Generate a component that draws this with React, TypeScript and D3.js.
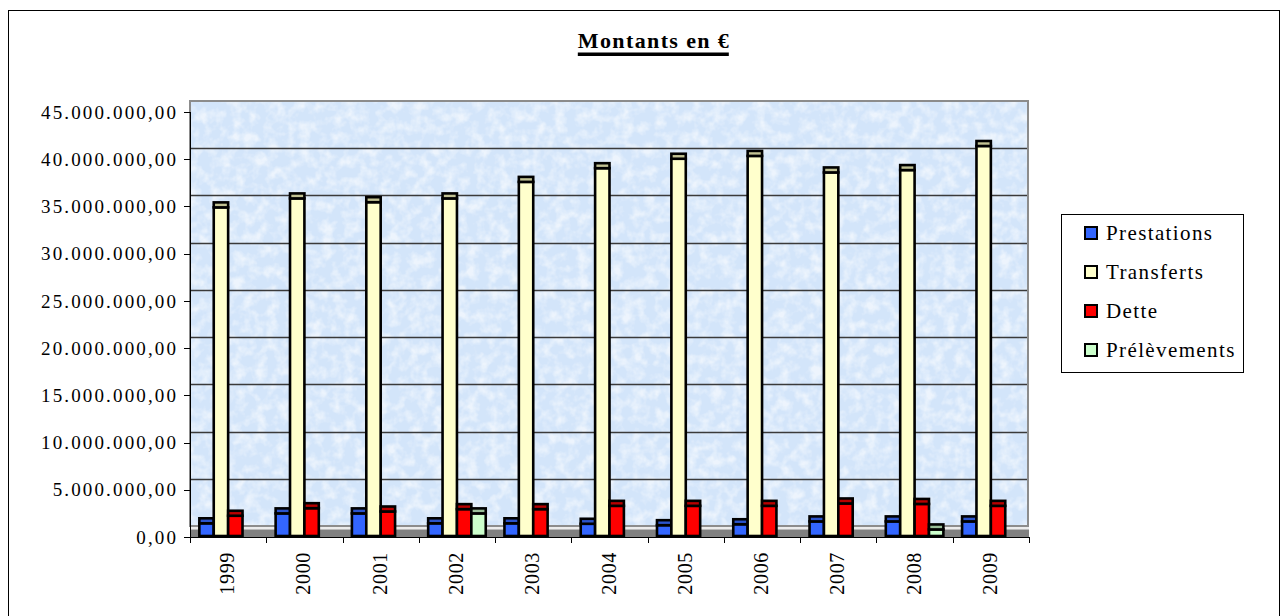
import React, { useRef, useEffect } from 'react';
import * as d3 from 'd3';

// values in euros (front face top of each column)
const years = ['1999', '2000', '2001', '2002', '2003', '2004', '2005', '2006', '2007', '2008', '2009'];
const seriesNames = ['Prestations', 'Transferts', 'Dette', 'Prélèvements'];
const prestations = [1.45e6, 2.5e6, 2.5e6, 1.45e6, 1.45e6, 1.4e6, 1.25e6, 1.35e6, 1.65e6, 1.65e6, 1.65e6];
const transferts = [34.9e6, 35.85e6, 35.45e6, 35.85e6, 37.6e6, 39.05e6, 40.05e6, 40.35e6, 38.6e6, 38.85e6, 41.4e6];
const dette = [2.25e6, 3.05e6, 2.7e6, 2.95e6, 2.95e6, 3.3e6, 3.3e6, 3.3e6, 3.55e6, 3.5e6, 3.3e6];
const prelevements = [0, 0, 0, 2.5e6, 0, 0, 0, 0, 0, 0.8e6, 0];
const yTicks = [0, 5e6, 10e6, 15e6, 20e6, 25e6, 30e6, 35e6, 40e6, 45e6];

const frontColors = ['#3366ff', '#ffffcc', '#ff0000', '#ccffcc'];
const topColors = ['#2b54cc', '#c2c293', '#b80000', '#99bf99'];

const FONT = '"Liberation Serif", "Times New Roman", serif';

// spread the letters of a text group so that one sample label gets the wanted width
const fitSpacing = (sel, sampleNode, target) => {
  const natural = sampleNode.getComputedTextLength();
  const n = sampleNode.textContent.length;
  const ls = Math.max(0, (target - natural) / (n - 1));
  sel.style('letter-spacing', ls + 'px');
  return ls;
};

export default function App() {
  const svgRef = useRef(null);

  useEffect(() => {
    const svg = d3.select(svgRef.current);
    svg.selectAll('*').remove();

    const left = 190, right = 1029, top = 112, bottom = 537;
    const depthY = 11; // oblique shift of the back wall
    const capH = 5;

    const y = d3.scaleLinear().domain([0, 45e6]).range([bottom, top]);
    const x0 = d3.scaleBand().domain(years).range([left, right]).padding(0);
    const x1 = d3.scaleBand().domain(seriesNames).range([0, x0.bandwidth()]).paddingInner(0).paddingOuter(0.65);

    const fmt = d3.formatLocale({ decimal: ',', thousands: '.', grouping: [3], currency: ['', '€'] }).format(',.2f');

    const defs = svg.append('defs');
    const filt = defs.append('filter').attr('id', 'tex').attr('x', 0).attr('y', 0).attr('width', 1).attr('height', 1);
    filt.append('feTurbulence').attr('type', 'fractalNoise').attr('baseFrequency', 0.09).attr('numOctaves', 3).attr('seed', 7);
    filt.append('feColorMatrix').attr('type', 'matrix')
      .attr('values', '0 0 0 0 1  0 0 0 0 1  0 0 0 0 1  0 0 0 -2.4 1.45');

    // outer frame
    svg.append('rect').attr('x', 8.5).attr('y', 10.5).attr('width', 1271).attr('height', 620)
      .attr('fill', '#fff').attr('stroke', '#000');

    // title
    const title = svg.append('text').attr('x', 654).attr('y', 48).attr('text-anchor', 'middle')
      .attr('font-family', FONT).attr('font-size', 22).attr('font-weight', 'bold')
      .text('Montants en €');
    const tls = fitSpacing(title, title.node(), 151);
    const tb = title.node().getBBox();
    svg.append('rect').attr('x', tb.x).attr('y', 52.5).attr('width', tb.width - tls).attr('height', 3.5).attr('fill', '#000');

    // back wall
    const wallTop = y(45e6) - depthY;
    const wallBottom = y(0) - depthY;
    svg.append('rect').attr('x', left).attr('y', wallTop).attr('width', right - 1 - left).attr('height', wallBottom - wallTop)
      .attr('fill', '#d3e5fa');
    svg.append('rect').attr('x', left).attr('y', wallTop).attr('width', right - 1 - left).attr('height', wallBottom - wallTop)
      .attr('filter', 'url(#tex)').attr('opacity', 0.6);

    // gridlines on the wall
    svg.append('g').selectAll('line').data(yTicks.filter(v => v < 45e6)).join('line')
      .attr('x1', left).attr('x2', right - 1)
      .attr('y1', v => Math.round(y(v) - depthY) + 0.5).attr('y2', v => Math.round(y(v) - depthY) + 0.5)
      .attr('stroke', '#3a3a3a').attr('stroke-width', 1.4);

    svg.append('rect').attr('x', left).attr('y', wallTop).attr('width', right - 1 - left).attr('height', wallBottom - wallTop)
      .attr('fill', 'none').attr('stroke', '#8c8c8c').attr('stroke-width', 2);

    // floor
    svg.append('rect').attr('x', left).attr('y', wallBottom + 1).attr('width', right - left).attr('height', 2.5).attr('fill', '#ececec');
    svg.append('rect').attr('x', left).attr('y', wallBottom + 3.5).attr('width', right - left).attr('height', bottom - wallBottom - 3.5).attr('fill', '#808080');

    // columns
    const series = [prestations, transferts, dette, prelevements];
    const cells = [];
    years.forEach((yr, i) => {
      series.forEach((vals, s) => {
        if (vals[i] > 0) cells.push({ year: yr, s, value: vals[i] });
      });
    });
    const bars = svg.append('g').selectAll('g').data(cells).join('g');
    bars.append('rect')
      .attr('x', d => x0(d.year) + x1(seriesNames[d.s]))
      .attr('y', d => y(d.value))
      .attr('width', x1.bandwidth())
      .attr('height', d => y(0) - 1 - y(d.value))
      .attr('fill', d => frontColors[d.s]).attr('stroke', '#000').attr('stroke-width', 2.6);
    bars.append('rect')
      .attr('x', d => x0(d.year) + x1(seriesNames[d.s]))
      .attr('y', d => y(d.value) - capH)
      .attr('width', x1.bandwidth())
      .attr('height', capH)
      .attr('fill', d => topColors[d.s]).attr('stroke', '#000').attr('stroke-width', 2.6);

    // y axis
    const ya = svg.append('g');
    ya.append('line').attr('x1', left + 0.5).attr('x2', left + 0.5).attr('y1', y(45e6)).attr('y2', bottom).attr('stroke', '#000');
    ya.selectAll('.tk').data(yTicks).join('line').attr('class', 'tk')
      .attr('x1', left - 6).attr('x2', left).attr('y1', v => Math.round(y(v)) + 0.5).attr('y2', v => Math.round(y(v)) + 0.5)
      .attr('stroke', '#000');
    const ylab = ya.selectAll('text').data(yTicks).join('text')
      .attr('x', left - 13).attr('y', v => y(v)).attr('dy', '0.35em').attr('text-anchor', 'end')
      .attr('font-family', FONT).attr('font-size', 19).attr('fill', '#000')
      .text(v => fmt(v));
    const yls = fitSpacing(ylab, ylab.nodes()[yTicks.length - 1], 135);
    ylab.attr('x', left - 14 + yls);

    // x axis
    const xa = svg.append('g');
    xa.append('line').attr('x1', left).attr('x2', right).attr('y1', bottom + 0.5).attr('y2', bottom + 0.5).attr('stroke', '#000');
    xa.selectAll('.tk').data([...years.map(d => x0(d)), right]).join('line').attr('class', 'tk')
      .attr('x1', d => Math.round(d) + 0.5).attr('x2', d => Math.round(d) + 0.5).attr('y1', bottom).attr('y2', bottom + 6)
      .attr('stroke', '#000');
    const xlab = xa.selectAll('text').data(years).join('text')
      .attr('transform', d => `translate(${x0(d) + x0.bandwidth() / 2 - 1},${bottom + 15}) rotate(-90)`)
      .attr('dy', '0.35em').attr('text-anchor', 'end')
      .attr('font-family', FONT).attr('font-size', 20).attr('fill', '#000')
      .text(d => d);
    fitSpacing(xlab, xlab.node(), 42);

    // legend
    const lg = svg.append('g');
    lg.append('rect').attr('x', 1061.5).attr('y', 214.5).attr('width', 182).attr('height', 158)
      .attr('fill', '#fff').attr('stroke', '#000');
    const items = lg.selectAll('g').data(seriesNames).join('g')
      .attr('transform', (d, i) => `translate(0,${233 + i * 39})`);
    items.append('rect').attr('x', 1085).attr('y', -6).attr('width', 12).attr('height', 12)
      .attr('fill', (d, i) => frontColors[i]).attr('stroke', '#000').attr('stroke-width', 2);
    const ltxt = items.append('text').attr('x', 1106).attr('dy', '0.35em')
      .attr('font-family', FONT).attr('font-size', 21).attr('fill', '#000')
      .text(d => d);
    fitSpacing(ltxt, ltxt.node(), 106);
  }, []);

  return (
    <svg ref={svgRef} width={1287} height={616}
      style={{ position: 'absolute', left: 0, top: 0, display: 'block', background: '#fff' }} />
  );
}
